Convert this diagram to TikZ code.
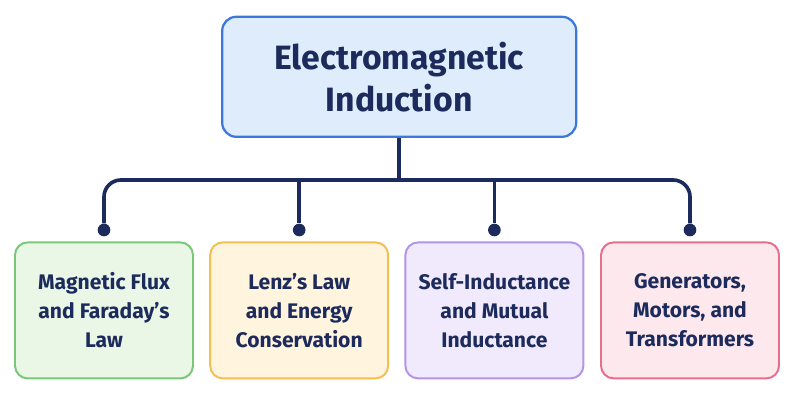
\documentclass[tikz,border=0pt]{standalone}
\usepackage{fontspec}
\setmainfont{Fira Sans}
\usetikzlibrary{positioning}
\definecolor{navy}{RGB}{28,42,92}
\definecolor{topfill}{RGB}{222,236,252}
\definecolor{topline}{RGB}{60,120,220}
\definecolor{gfill}{RGB}{234,247,230}\definecolor{gline}{RGB}{120,200,120}
\definecolor{ofill}{RGB}{255,244,222}\definecolor{oline}{RGB}{245,190,80}
\definecolor{pfill}{RGB}{240,234,252}\definecolor{pline}{RGB}{178,148,232}
\definecolor{rfill}{RGB}{253,232,238}\definecolor{rline}{RGB}{232,110,140}
\tikzset{
  topic/.style={draw=topline,fill=topfill,line width=1.6pt,rounded corners=10pt,
    minimum width=8.85cm,minimum height=3cm,align=center,text=navy,
    font=\bfseries\fontsize{24}{30}\selectfont},
  sub/.style={draw=#1line,fill=#1fill,line width=1.4pt,rounded corners=9pt,
    minimum width=4.45cm,minimum height=3.4cm,align=center,text=navy,
    font=\bfseries\fontsize{15}{20.5}\selectfont},
  link/.style={navy,line width=2.6pt},
  dot/.style={circle,fill=navy,inner sep=0pt,minimum size=9pt}
}
\begin{document}
\begin{tikzpicture}
\useasboundingbox (0,0) rectangle (20,-10.4);
\node[topic] (emi) at (9.98,-1.92) {Electromagnetic\\Induction};
\node[sub=g] (flux) at (2.6,-7.76) {Magnetic Flux\\and Faraday’s\\Law};
\node[sub=o] (lenz) at (7.48,-7.76) {Lenz’s Law\\and Energy\\Conservation};
\node[sub=p] (self) at (12.36,-7.76) {Self-Inductance\\and Mutual\\Inductance};
\node[sub=r] (gen) at (17.25,-7.76) {Generators,\\Motors, and\\Transformers};
% bus and end dots
\coordinate (bus) at (9.98,-4.5);
\foreach \n in {flux,lenz,self,gen}
  \node[dot] (d\n) at ([yshift=-1.25cm]\n.north |- bus) {};
\draw[link] (emi.south) -- (bus);
\draw[link,rounded corners=12pt] (dflux) |- (bus) -| (dgen);
\draw[link] (dlenz) -- (dlenz |- bus);
\draw[link] (dself) -- (dself |- bus);
\end{tikzpicture}
\end{document}
